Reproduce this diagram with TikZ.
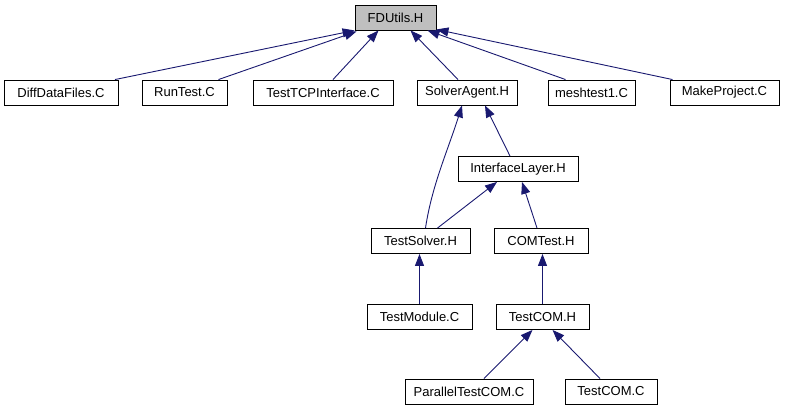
\documentclass[tikz,border=0pt]{standalone}
\usepackage{fontspec}
\setmainfont{Liberation Sans}
\usetikzlibrary{arrows.meta}
\definecolor{edgeblue}{HTML}{191970}
\definecolor{rootgrey}{HTML}{BFBFBF}
\begin{document}
\begin{tikzpicture}[x=1pt,y=-1pt,
  box/.style={draw=black,line width=0.9pt,fill=white,minimum height=25pt,inner sep=0pt,
    font=\fontsize{13}{15}\selectfont},
  dep/.style={draw=edgeblue,line width=0.9pt,-{Triangle[length=12pt,width=9pt]},color=edgeblue}]
\useasboundingbox (0,0) rectangle (785,411);
\node[box,fill=rootgrey,minimum width=81pt] (fd) at (395.5,17.5) {FDUtils.H};
\node[box,minimum width=114pt] (diff) at (61,92.5) {DiffDataFiles.C};
\node[box,minimum width=85pt] (run) at (184.5,92.5) {RunTest.C};
\node[box,minimum width=140pt] (tcp) at (323,92.5) {TestTCPInterface.C};
\node[box,minimum width=100pt] (sa) at (467,92.5) {SolverAgent.H};
\node[box,minimum width=87pt] (mesh) at (591.5,92.5) {meshtest1.C};
\node[box,minimum width=109pt] (make) at (724.5,92.5) {MakeProject.C};
\node[box,minimum width=120pt] (il) at (518,169) {InterfaceLayer.H};
\node[box,minimum width=99pt] (ts) at (420.5,241) {TestSolver.H};
\node[box,minimum width=94pt] (com) at (541,241) {COMTest.H};
\node[box,minimum width=105pt] (tm) at (419.5,317) {TestModule.C};
\node[box,minimum width=93pt] (tch) at (542.5,317) {TestCOM.H};
\node[box,minimum width=128pt] (ptc) at (469,391.5) {ParallelTestCOM.C};
\node[box,minimum width=92pt] (tcc) at (611,391.5) {TestCOM.C};

\draw[dep] ([xshift=54pt]diff.north) -- (fd.south west);
\draw[dep] ([xshift=34pt]run.north) -- ([xshift=2pt,yshift=-1pt]fd.south west);
\draw[dep] ([xshift=10pt]tcp.north) -- ([xshift=-17pt]fd.south);
\draw[dep] ([xshift=-9pt]sa.north) -- ([xshift=15pt]fd.south);
\draw[dep] ([xshift=-26pt]mesh.north) -- ([xshift=32pt]fd.south);
\draw[dep] ([xshift=-52pt]make.north) -- ([yshift=1pt]fd.south east);
\draw[dep] ([xshift=-8pt]il.north) -- ([xshift=18pt]sa.south);
\draw[dep] ([xshift=5pt]ts.north) .. controls (432,185) and (448,150) .. ([xshift=-5pt]sa.south);
\draw[dep] ([xshift=17pt]ts.north) -- ([xshift=-21pt]il.south);
\draw[dep] ([xshift=-4pt]com.north) -- ([xshift=4pt]il.south);
\draw[dep] (tm.north) -- (tm.north |- ts.south);
\draw[dep] (tch.north) -- (tch.north |- com.south);
\draw[dep] ([xshift=15pt]ptc.north) -- ([xshift=-10pt]tch.south);
\draw[dep] ([xshift=-11pt]tcc.north) -- ([xshift=10pt]tch.south);
\end{tikzpicture}
\end{document}
